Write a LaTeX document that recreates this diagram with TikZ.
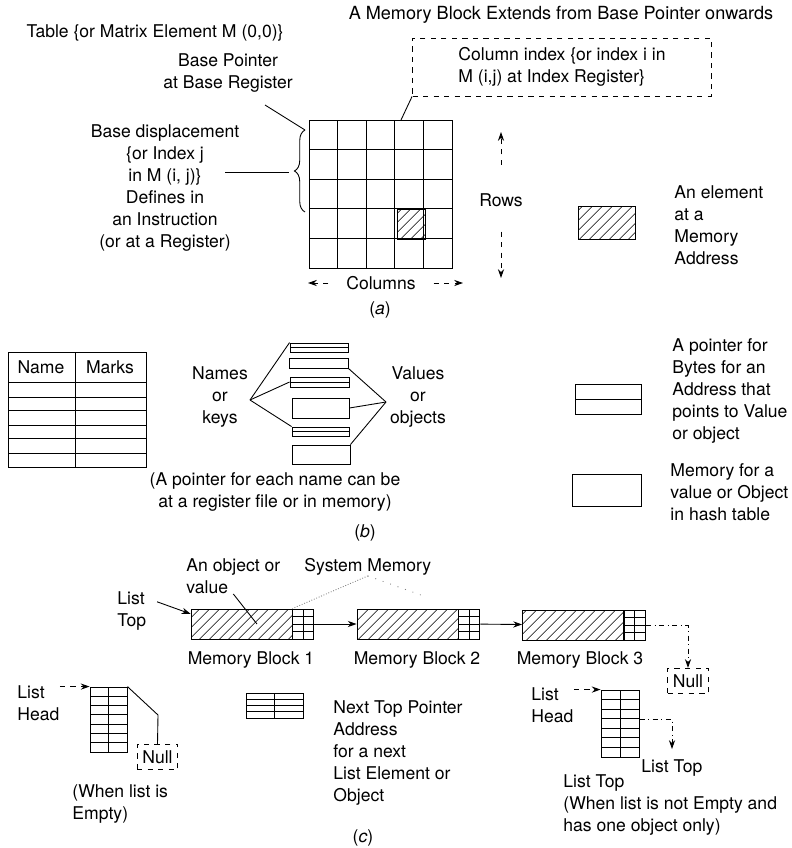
\documentclass[tikz,border=0pt]{standalone}
\usepackage{fontspec}
\setmainfont{TeX Gyre Heros}
\usetikzlibrary{patterns.meta,decorations.pathreplacing,arrows.meta,calc,positioning}

\tikzset{
  txt/.style={font=\fontsize{10}{12.5}\selectfont, inner sep=0pt, align=center},
  ltxt/.style={txt, align=left, anchor=west},
  cellbox/.style={draw, inner sep=0pt},
  hatched/.style={cellbox, pattern={Lines[angle=45,distance=4pt,line width=0.4pt]}},
  ptrbox/.style={cellbox, path picture={\draw (path picture bounding box.west) -- (path picture bounding box.east);}},
  nxtbox/.style={cellbox, minimum width=0.42cm, minimum height=0.6cm, path picture={
      \draw (path picture bounding box.north) -- (path picture bounding box.south);
      \foreach \k in {1,2,3}
        \draw ($(path picture bounding box.north west)!\k/4!(path picture bounding box.south west)$) -- ($(path picture bounding box.north east)!\k/4!(path picture bounding box.south east)$);}},
  listtab/.style={cellbox, path picture={
      \draw (path picture bounding box.north) -- (path picture bounding box.south);
      \foreach \k in {1,...,6}
        \draw ($(path picture bounding box.north west)!\k/7!(path picture bounding box.south west)$) -- ($(path picture bounding box.north east)!\k/7!(path picture bounding box.south east)$);}},
  nullbox/.style={txt, draw, dashed, inner xsep=3pt, inner ysep=3.5pt},
  arr/.style={-{Stealth[length=5pt,width=3.5pt]}},
  darr/.style={arr, dashed},
}

\begin{document}
\begin{tikzpicture}[x=0.02cm, y=-0.02cm, line width=0.5pt]
\useasboundingbox (0,0) rectangle (791,848);

% (a) matrix in memory
\node[txt, font=\fontsize{10.3}{13}\selectfont] (title) at (561,15) {A Memory Block Extends from Base Pointer onwards};
\node[txt] (tbl0) at (155,33) {Table \{or Matrix Element M (0,0)\}};
\node[txt] (bptr) at (228,73) {Base Pointer\\at Base Register};
\node[txt] (bdisp) at (165,188) {Base displacement\\\{or Index j\\in M (i, j)\}\\Defines in\\an Instruction\\(or at a Register)};
\node[cellbox, minimum width=2.86cm, minimum height=2.96cm] (mtx) at (381,194) {};
\foreach \i in {1,...,4} {
  \draw (309+28.6*\i,120) -- (309+28.6*\i,268);
  \draw (309,120+29.6*\i) -- (453,120+29.6*\i);
}
\node[hatched, minimum width=0.56cm, minimum height=0.6cm] (cell) at (411,224) {};
\node[txt, draw, dashed, align=left, minimum width=5.98cm, minimum height=1.16cm] (colidx) at (562,67) {Column index \{or index i in\\M (i,j) at Index Register\}};
\node[txt] (rows) at (501,200) {Rows};
\node[txt] (cols) at (381,283) {Columns};
\node[hatched, minimum width=1.14cm, minimum height=0.66cm] (elem) at (607,223) {};
\node[ltxt] (elemlbl) at (674,225) {An element\\at a\\Memory\\Address};
\node[txt] (capa) at (380,310) {(\textit{a})};

\coordinate (ctop) at (401,120);
\coordinate (bpend) at (265,105);
\coordinate (btop) at (305,130);
\coordinate (bbot) at (305,212);
\coordinate (btip) at (289,172);
\coordinate (bdend) at (225,172);
\coordinate (rtop) at (501,132);
\coordinate (rbot) at (501,278);
\coordinate (cleft) at (308,283);
\coordinate (cright) at (463,283);

\draw (colidx.south west) -- (ctop);
\draw (bpend) -- (btop);
\draw[decorate, decoration={brace, amplitude=6pt}] (bbot) -- (btop);
\draw (bdend) -- (btip);
\draw[darr, shorten <=16pt] (rows) -- (rtop);
\draw[darr, shorten <=14pt] (rows) -- (rbot);
\draw[darr, shorten <=10pt] (cols.west) -- (cleft);
\draw[darr, shorten <=10pt] (cols.east) -- (cright);

% (b) hash table
\node[cellbox, minimum width=2.76cm, minimum height=2.3cm] (tbl) at (77,409.5) {};
\draw (75,352) -- (75,467);
\foreach \y in {382,397,410,425,438,453} \draw (8,\y) -- (146,\y);
\node[txt] (hname) at (41,367) {Name};
\node[txt] (hmarks) at (110,367) {Marks};

\node[ptrbox, minimum width=1.16cm, minimum height=0.18cm] (p1) at (319,347.5) {};
\node[cellbox, minimum width=1.18cm, minimum height=0.2cm] (v1) at (318.5,363) {};
\node[ptrbox, minimum width=1.18cm, minimum height=0.2cm] (p2) at (319.5,382) {};
\node[cellbox, minimum width=1.14cm, minimum height=0.4cm] (v2) at (320.5,408) {};
\node[ptrbox, minimum width=1.14cm, minimum height=0.18cm] (p3) at (320.5,431.5) {};
\node[cellbox, minimum width=1.16cm, minimum height=0.38cm] (v3) at (321,454.5) {};
\node[txt] (names) at (220,397) {Names\\or\\keys};
\node[txt] (values) at (418,397) {Values\\or\\objects};
\coordinate (nk) at (250,400);
\coordinate (vo) at (386,402);
\draw (nk) -- (p1.north west);
\draw (nk) -- (p2.west);
\draw (nk) -- (p3.north west);
\draw (vo) -- (v1.south east);
\draw (vo) -- (v2.east);
\draw (vo) -- (v3.north east);
\node[txt] (note) at (275,492) {(A pointer for each name can be\\at a register file or in memory)};
\node[txt] (capb) at (365,533) {(\textit{b})};

\node[ptrbox, minimum width=1.32cm, minimum height=0.6cm] (lp) at (608,399) {};
\node[ltxt] (lplbl) at (672,391) {A pointer for\\Bytes for an\\Address that\\points to Value\\or object};
\node[cellbox, minimum width=1.38cm, minimum height=0.64cm] (lm) at (606.5,490) {};
\node[ltxt] (lmlbl) at (670,492) {Memory for a\\value or Object\\in hash table};

% (c) linked list
\node[ltxt] (objlbl) at (186,576) {An object or\\value};
\node[ltxt] (sysmem) at (304,567) {System Memory};
\node[ltxt] (ltop) at (117,611) {List\\Top};
\node[hatched, minimum width=2.02cm, minimum height=0.6cm] (b1) at (241.5,624) {};
\node[nxtbox, right=0pt of b1] (n1) {};
\node[hatched, minimum width=2.02cm, minimum height=0.6cm] (b2) at (407.5,624) {};
\node[nxtbox, right=0pt of b2] (n2) {};
\node[hatched, minimum width=2.02cm, minimum height=0.6cm] (b3) at (573,625) {};
\node[nxtbox, right=0pt of b3] (n3) {};
\node[txt] (m1) at (251,660) {Memory Block 1};
\node[txt] (m2) at (417,660) {Memory Block 2};
\node[txt] (m3) at (580,660) {Memory Block 3};
\node[nullbox] (null3) at (688,681) {Null};

\draw[arr] ([xshift=6pt,yshift=-6pt]ltop.north east) -- ([yshift=-3pt]b1.north west);
\draw (objlbl.south) -- ([xshift=8.8pt]b1.center);
\draw[gray, densely dotted] (sysmem.south) -- (b1.north east);
\draw[gray, loosely dotted, shorten >=20pt] (sysmem.south) -- (b2.north east);
\draw[arr] (n1) -- (b2);
\draw[arr] (n2) -- (b3);
\draw[arr, dashdotted] (n3.east) -| (null3.north);

\node[ltxt] (lhead) at (17,703) {List\\Head};
\node[listtab, minimum width=0.74cm, minimum height=1.3cm] (tl) at (108.5,719.5) {};
\node[nullbox] (null1) at (157.5,757) {Null};
\coordinate (k1) at (158,715);
\draw[darr] (lhead.east |- tl.north west) -- (tl.north west);
\draw (tl.north east) -- (k1) -- (null1.north);
\node[ltxt] (empty) at (72,804) {(When list is\\Empty)};

\node[nxtbox, minimum width=1.14cm, minimum height=0.5cm] (lg) at (274.5,705.5) {};
\node[ltxt] (nxtlbl) at (333,753) {Next Top Pointer\\Address\\for a next\\List Element or\\Object};
\node[txt] (capc) at (363,838) {(\textit{c})};

\node[ltxt] (lhead2) at (531,705.5) {List\\Head};
\node[listtab, minimum width=0.76cm, minimum height=1.34cm] (tr) at (620,723.5) {};
\coordinate (k2) at (672,749);
\draw[darr] (lhead2.east |- tr.north west) -- (tr.north west);
\draw[arr, dashdotted] ([yshift=2.5pt]tr.east) -| (k2);
\node[ltxt] (ltop2) at (641,768) {List Top};
\node[ltxt] (ltop3) at (563,805) {List Top\\(When list is not Empty and\\has one object only)};
\end{tikzpicture}
\end{document}
